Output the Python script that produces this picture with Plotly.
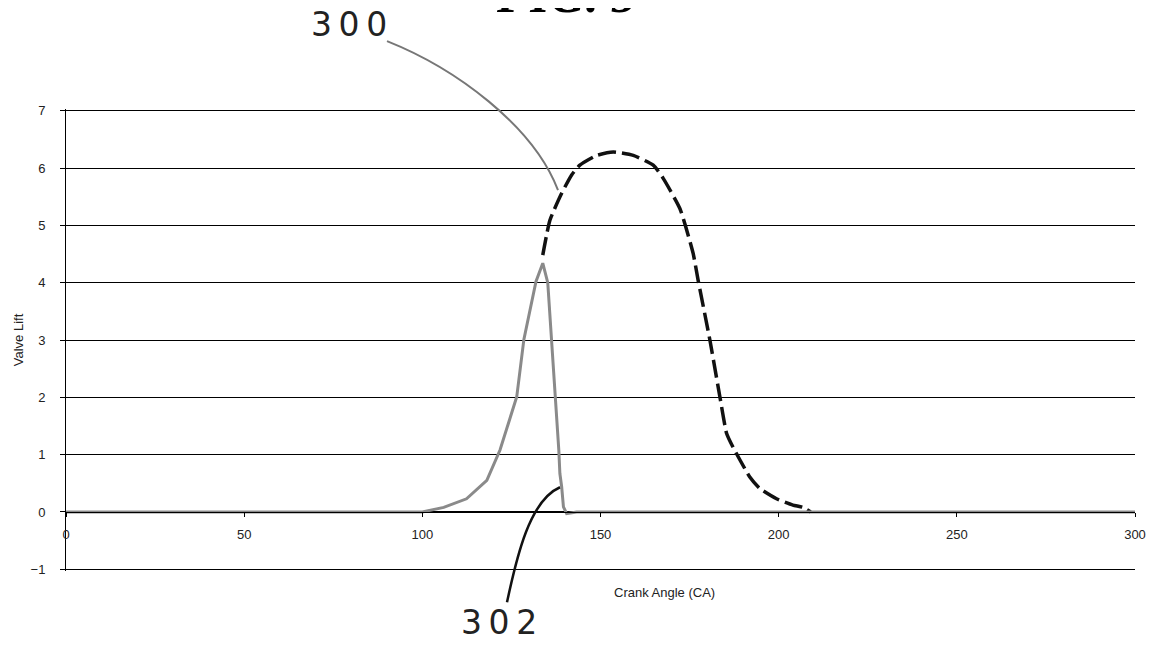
import plotly.graph_objects as go

# ---- data ----
intake_angle = [0, 50, 100, 106, 112.4, 118.1, 120.9, 121.8, 126.5, 128.5, 131.9, 133.8,
                135.2, 136.3, 137.4, 138.3, 138.6, 139.1, 139.6, 140.5, 143.3, 200, 250, 300]
intake_lift = [0, 0, 0, 0.08, 0.23, 0.55, 0.96, 1.08, 2.01, 3.01, 4.02, 4.34,
               4.0, 3.0, 2.0, 1.08, 0.67, 0.44, 0.09, -0.03, 0, 0, 0, 0]

exhaust_angle = [133.8, 135.8, 139.1, 141.9, 144.2, 148.9, 153.6, 159.2, 164.8, 167.6,
                 172.3, 176.0, 177.4, 180.7, 183.5, 185.4, 187.2, 191.9, 194.7, 199.4,
                 204.0, 206.8, 209.0]
exhaust_lift = [4.48, 5.09, 5.56, 5.88, 6.05, 6.22, 6.28, 6.22, 6.05, 5.82,
                5.29, 4.51, 4.04, 3.00, 2.01, 1.37, 1.13, 0.61, 0.41, 0.23,
                0.12, 0.08, 0.0]

x_ticks = [0, 50, 100, 150, 200, 250, 300]
y_ticks = [-1, 0, 1, 2, 3, 4, 5, 6, 7]

# page body has an 8px default margin; geometry below is in screen pixels
OFF = 8
W, H = 1154, 646
YPAD = 0.03
L, R = 66, 1135
T, B = 110.6 - YPAD * 57.3, 569 + YPAD * 57.3
Y0, Y1 = -1 - YPAD, 7 + YPAD


def px(x):
    return (x - L) / (R - L)


def py(y):
    return (B - y) / (B - T)


fig = go.Figure()
fig.add_trace(go.Scatter(x=exhaust_angle, y=exhaust_lift, mode="lines",
                         line=dict(color="#111111", width=3.5, dash="18px,6px",
                                   shape="spline", smoothing=0.5),
                         showlegend=False))
fig.add_trace(go.Scatter(x=intake_angle, y=intake_lift, mode="lines",
                         line=dict(color="#8a8a8a", width=3),
                         showlegend=False))

font_ax = dict(family="Liberation Sans, Arial, sans-serif", size=13, color="#222222")

fig.update_layout(
    width=W - OFF, height=H - OFF, autosize=False,
    paper_bgcolor="white", plot_bgcolor="white",
    margin=dict(l=L - OFF, r=W - R, t=T - OFF, b=H - B, pad=0, autoexpand=False),
    showlegend=False,
    xaxis=dict(range=[0, 300], tickvals=x_ticks, ticktext=[str(v) for v in x_ticks],
               anchor="free", position=(0 - Y0) / (Y1 - Y0), showline=True,
               linecolor="black", linewidth=1, ticks="outside", ticklen=4,
               tickcolor="black", showgrid=False, zeroline=False, tickfont=font_ax,
               ticklabelstandoff=6, automargin=False),
    yaxis=dict(range=[Y0, Y1], tickvals=y_ticks, showline=True, linecolor="black",
               linewidth=1, ticks="outside", ticklen=5, tickcolor="black",
               showgrid=True, gridcolor="black", gridwidth=1,
               zeroline=True, zerolinecolor="black", zerolinewidth=1,
               tickfont=font_ax, ticklabelstandoff=12, automargin=False,
               title=dict(text="Valve Lift", font=font_ax, standoff=4)),
)

# axis title for x placed as in the reference
fig.add_annotation(text="Crank Angle (CA)", xref="paper", yref="paper",
                   x=px(664), y=py(592), showarrow=False, font=font_ax,
                   xanchor="center", yanchor="middle")

# figure label (mostly cut off at the top, as in the reference)
fig.add_annotation(text="<b><i>FIG. 5</i></b>", xref="paper", yref="paper",
                   x=px(566), y=py(-5), showarrow=False,
                   font=dict(family="Liberation Serif, Times New Roman, serif",
                             size=50, color="black"),
                   xanchor="center", yanchor="middle")

# reference numerals
hand_font = dict(family="DejaVu Sans, sans-serif", size=33, color="#222222")
fig.add_annotation(text="3\u20090\u20090", xref="paper", yref="paper", x=px(349), y=py(24),
                   showarrow=False, font=hand_font, xanchor="center", yanchor="middle")
fig.add_annotation(text="3\u20090\u20092", xref="paper", yref="paper", x=px(499), y=py(622),
                   showarrow=False, font=hand_font, xanchor="center", yanchor="middle")


def path(pts):
    (x0, y0), (x1, y1), (x2, y2), (x3, y3) = pts
    return (f"M {px(x0)},{py(y0)} C {px(x1)},{py(y1)} {px(x2)},{py(y2)} "
            f"{px(x3)},{py(y3)}")


fig.add_shape(type="path", xref="paper", yref="paper",
              path=path([(387, 41), (455, 68), (533, 125), (558, 190)]),
              line=dict(color="#777777", width=2), layer="above")
fig.add_shape(type="path", xref="paper", yref="paper",
              path=path([(507, 602), (517, 555), (530, 500), (560, 487)]),
              line=dict(color="#111111", width=2.5), layer="above")

fig.write_html("out.html")
